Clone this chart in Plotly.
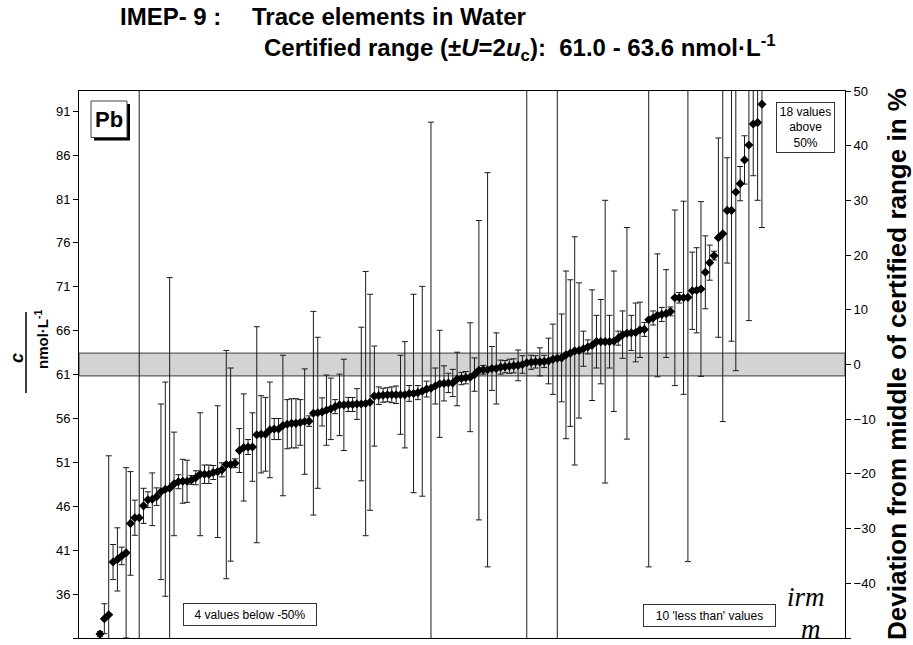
import plotly.graph_objects as go

# ---- data ----
ranks = list(range(5, 158))  # laboratory rank on the category axis
values = [31.6, 33.35, 33.8, 39.8, 40.1, 40.5, 40.85, 44.2, 44.85, 44.85,
          46.2, 46.9, 46.95, 47.25, 47.8, 48.1, 48.2, 48.7, 48.95, 49.0,
          49.0, 49.15, 49.4, 49.8, 49.8, 49.8, 50.0, 50.1, 50.3, 50.9,
          50.9, 51.05, 52.5, 52.85, 52.9, 52.9, 54.3, 54.35, 54.35, 54.85,
          54.95, 54.95, 55.35, 55.5, 55.6, 55.6, 55.7, 55.8, 55.85, 56.75,
          56.8, 56.9, 57.1, 57.25, 57.5, 57.7, 57.7, 57.75, 57.75, 57.8,
          57.8, 57.85, 58.0, 58.7, 58.75, 58.8, 58.85, 58.85, 58.85, 58.85,
          58.85, 59.0, 59.0, 59.1, 59.25, 59.5, 59.6, 59.85, 60.1, 60.15,
          60.2, 60.2, 60.65, 60.7, 60.8, 60.85, 61.15, 61.65, 61.7, 61.7,
          61.85, 61.85, 62.0, 62.05, 62.1, 62.15, 62.2, 62.3, 62.5, 62.55,
          62.6, 62.6, 62.65, 62.7, 62.9, 63.0, 63.05, 63.4, 63.6, 63.85,
          63.9, 64.1, 64.3, 64.5, 64.9, 64.9, 64.9, 64.9, 64.95, 65.3,
          65.7, 65.85, 65.9, 65.95, 66.25, 66.3, 67.4, 67.6, 67.9, 68.0,
          68.1, 68.35, 69.9, 69.9, 69.9, 69.95, 70.7, 70.75, 70.9, 72.8,
          73.9, 74.7, 76.75, 77.2, 79.85, 79.85, 81.95, 82.9, 85.6, 87.3,
          89.7, 89.85, 91.95]
uncert = [0.3, 1.7, 18.1, 2.0, 3.6, 1.0, 9.7, 5.9, 2.0, 55.0,
          2.0, 0.9, 3.0, 1.0, 10.0, 12.2, 24.0, 5.9, 0.8, 2.5,
          2.4, 0.5, 0.8, 7.0, 1.05, 1.05, 0.8, 7.5, 0.8, 13.0,
          11.0, 0.5, 2.5, 6.1, 0.85, 3.9, 12.3, 4.4, 4.2, 5.45,
          1.2, 1.2, 8.0, 2.8, 2.8, 2.8, 2.6, 6.0, 0.6, 11.6,
          8.6, 1.6, 4.0, 3.5, 0.8, 3.5, 5.2, 0.8, 0.8, 1.75,
          8.75, 15.05, 12.3, 5.7, 1.0, 0.8, 0.8, 0.9, 1.0, 4.5,
          6.05, 0.9, 11.3, 0.8, 11.95, 0.9, 30.3, 2.05, 6.1, 2.0,
          1.1, 1.55, 3.05, 0.7, 0.7, 6.2, 1.9, 17.05, 0.5, 22.45,
          2.5, 4.05, 0.8, 0.7, 0.8, 0.8, 1.75, 1.0, 55.0, 0.8,
          0.7, 1.6, 0.7, 2.6, 4.0, 55.0, 5.0, 9.55, 8.35, 13.0,
          7.7, 2.0, 0.8, 6.3, 3.0, 4.8, 16.1, 3.0, 8.0, 0.8,
          2.7, 12.05, 2.0, 3.35, 3.15, 0.8, 28.15, 0.8, 7.0, 0.8,
          5.0, 0.5, 10.0, 0.6, 11.0, 30.1, 4.4, 4.85, 9.95, 4.15,
          2.0, 0.5, 11.35, 21.4, 6.0, 14.9, 20.35, 1.95, 2.75, 20.0,
          5.9, 8.85, 14.05]
cert_low, cert_high = 61.0, 63.6
cert_mid = 62.3
left_tick_labels = ["31", "36", "41", "46", "51", "56", "61", "66", "71",
                    "76", "81", "86", "91"]
right_ticks = [-50, -40, -30, -20, -10, 0, 10, 20, 30, 40, 50]

FONT = "Arial, Liberation Sans, sans-serif"
W, H = 913, 645
L, R, T, B = 79, 845, 91, 638


def px(xp):
    return (xp - L) / (R - L)


def py(yp):
    return (B - yp) / (B - T)


ylo = cert_mid * 0.5   # -50 %
yhi = cert_mid * 1.5   # +50 %
# Excel places the major ticks every 5 units starting at the axis minimum
left_tick_pos = [ylo + 5 * k for k in range(len(left_tick_labels))]

fig = go.Figure()
fig.add_trace(go.Scatter(
    x=ranks, y=values, mode="markers",
    marker=dict(symbol="diamond", size=7, color="black"),
    error_y=dict(type="data", array=uncert, symmetric=True,
                 color="#1a1a1a", thickness=1, width=3),
    showlegend=False, hoverinfo="y"))
# invisible trace on the right axis
fig.add_trace(go.Scatter(x=[ranks[0]], y=[0], yaxis="y2", mode="markers",
                         marker=dict(opacity=0), showlegend=False,
                         hoverinfo="skip"))

shapes = [
    dict(type="rect", xref="paper", yref="y", x0=0, x1=1,
         y0=cert_low, y1=cert_high, fillcolor="#d3d3d3",
         line=dict(color="#3c3c3c", width=1), layer="below"),
    # Pb label shadow + box
    dict(type="rect", xref="paper", yref="paper", x0=px(94), x1=px(130),
         y0=py(140.5), y1=py(104), fillcolor="black", line=dict(width=0)),
    dict(type="rect", xref="paper", yref="paper", x0=px(91), x1=px(127),
         y0=py(137.5), y1=py(101), fillcolor="white",
         line=dict(color="#444", width=1)),
    # fraction bar of the left axis title
    dict(type="line", xref="paper", yref="paper", x0=px(26), x1=px(26),
         y0=py(393), y1=py(312), line=dict(color="black", width=1.5)),
]

ann = [
    dict(text="<b>Pb</b>", x=px(109), y=py(119.5), font=dict(size=22)),
    dict(text="<b>IMEP- 9 :</b>", x=px(118), y=py(16), xanchor="left",
         font=dict(size=24)),
    dict(text="<b>Trace elements in Water</b>", x=px(250), y=py(16),
         xanchor="left", font=dict(size=24)),
    dict(text="<b>Certified range (±<i>U</i>=2<i>u</i><sub>c</sub>):  "
              "61.0 - 63.6 nmol·L<sup>-1</sup></b>",
         x=px(778), y=py(48), xanchor="right", font=dict(size=24)),
    dict(text="<b>Deviation from middle of certified range in %</b>",
         x=px(897), y=py(364), textangle=-90, font=dict(size=26)),
    dict(text="<b><i>c</i></b>", x=px(17), y=py(358), textangle=-90,
         font=dict(size=18)),
    dict(text="<b>nmol·L<sup>-1</sup></b>", x=px(41), y=py(340),
         textangle=-90, font=dict(size=15)),
    dict(text="18 values<br>above<br>50%", x=px(805.5), y=py(127.5),
         width=57, height=49, bgcolor="white", bordercolor="#333",
         borderwidth=1, borderpad=0, font=dict(size=12)),
    dict(text="4 values below -50%", x=px(250), y=py(614.5),
         width=132, height=21, bgcolor="white", bordercolor="#333",
         borderwidth=1, borderpad=0, font=dict(size=12)),
    dict(text="10 'less than' values", x=px(709.5), y=py(615),
         width=131, height=21, bgcolor="white", bordercolor="#333",
         borderwidth=1, borderpad=0, font=dict(size=12)),
    dict(text="<i>irm</i>", x=px(806), y=py(613), yanchor="bottom",
         borderpad=0,
         font=dict(size=27, family="Liberation Serif, DejaVu Serif")),
    dict(text="<i>m</i>", x=px(811), y=py(613), yanchor="top",
         borderpad=0,
         font=dict(size=27, family="Liberation Serif, DejaVu Serif")),
]
for a in ann:
    a.setdefault("xref", "paper")
    a.setdefault("yref", "paper")
    a.setdefault("showarrow", False)
    a.setdefault("xanchor", "center")
    a.setdefault("yanchor", "middle")
    f = a.setdefault("font", {})
    f.setdefault("family", FONT)
    f.setdefault("color", "black")

fig.update_layout(
    width=W, height=H,
    margin=dict(l=L, r=W - R, t=T, b=H - B, pad=0),
    paper_bgcolor="white", plot_bgcolor="white",
    font=dict(family=FONT, color="black", size=13),
    xaxis=dict(range=[0.18, 176.07], showgrid=False, zeroline=False,
               showticklabels=False, ticks="", showline=True,
               linecolor="black", linewidth=1, mirror=True),
    yaxis=dict(range=[ylo, yhi], tickvals=left_tick_pos,
               ticktext=left_tick_labels, ticks="outside",
               ticklen=5, tickcolor="black", showgrid=False, zeroline=False,
               showline=True, linecolor="black", linewidth=1,
               tickfont=dict(size=13)),
    yaxis2=dict(range=[-50, 50], tickvals=right_ticks, overlaying="y",
                side="right", ticks="outside", ticklen=5, tickcolor="black",
                showgrid=False, zeroline=False, showline=True,
                linecolor="black", linewidth=1, tickfont=dict(size=13)),
    shapes=shapes, annotations=ann,
)

fig.write_html(
    "out.html",
    config={"displayModeBar": False},
    post_script="document.body.style.margin='0px';"
                "document.body.style.overflow='hidden';",
)
